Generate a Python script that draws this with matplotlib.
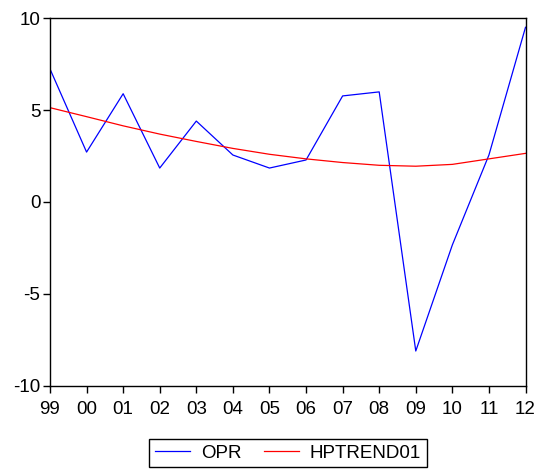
import matplotlib.pyplot as plt

plt.rcParams['font.family'] = ['Liberation Sans', 'DejaVu Sans']

# Annual data, 1999-2012
years = ['99', '00', '01', '02', '03', '04', '05', '06', '07', '08', '09', '10', '11', '12']
opr = [7.25, 2.72, 5.9, 1.85, 4.41, 2.56, 1.85, 2.29, 5.78, 6.0, -8.12, -2.34, 2.56, 9.52]
hptrend = [5.14, 4.65, 4.15, 3.7, 3.3, 2.92, 2.6, 2.35, 2.15, 2.0, 1.95, 2.05, 2.35, 2.65]

fig = plt.figure(figsize=(5.37, 4.69), dpi=100)
ax = fig.add_axes([0.0931, 0.178, 0.8855, 0.7826])

x = list(range(len(years)))
ax.plot(x, opr, color='#0000ff', linewidth=0.9, label='OPR')
ax.plot(x, hptrend, color='#ff0000', linewidth=0.9, label='HPTREND01')

ax.set_xlim(0, len(years) - 1)
ax.set_ylim(-10, 10)
ax.set_xticks(x)
ax.set_xticklabels(years)
ax.set_yticks([-10, -5, 0, 5, 10])
ax.set_yticklabels(['-10', '-5', '0', '5', '10'])

for s in ax.spines.values():
    s.set_linewidth(1.0)
ax.tick_params(axis='both', direction='out', length=5, width=1.0, labelsize=13.5)
ax.tick_params(axis='x', pad=6)
ax.tick_params(axis='y', pad=2)

fig.legend(loc='center', bbox_to_anchor=(0.536, 0.034), ncol=2, fontsize=13.5,
           frameon=True, fancybox=False, edgecolor='black', framealpha=1,
           handlelength=1.9, handletextpad=0.55, columnspacing=1.2,
           borderpad=0.3, borderaxespad=0)

fig.savefig('out.png', dpi=100)
